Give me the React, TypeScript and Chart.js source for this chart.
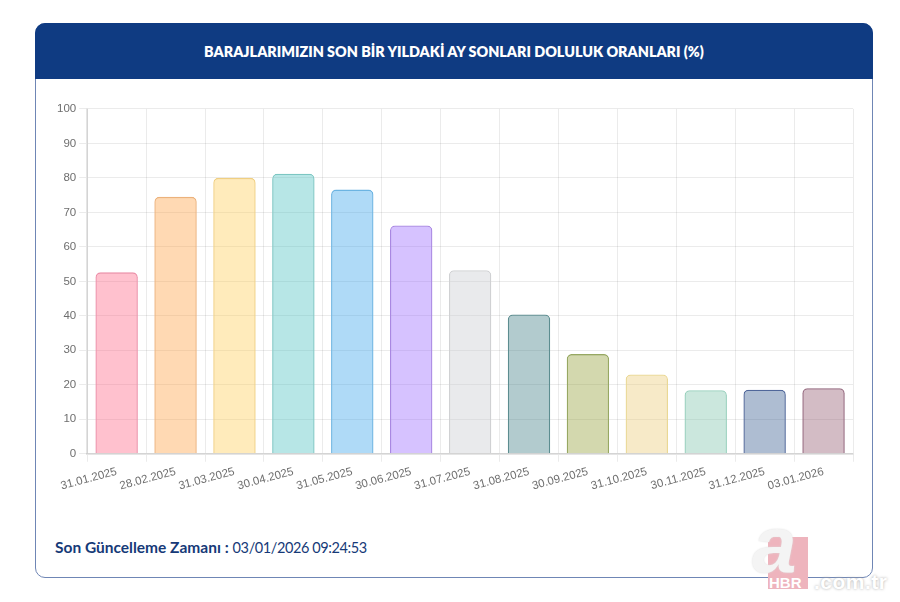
import { useEffect, useRef } from "react";
import { Chart, registerables } from "chart.js";

Chart.register(...registerables);

const dates = [
  "31.01.2025", "28.02.2025", "31.03.2025", "30.04.2025", "31.05.2025", "30.06.2025", "31.07.2025",
  "31.08.2025", "30.09.2025", "31.10.2025", "30.11.2025", "31.12.2025", "03.01.2026",
];
const fillRates = [52.6, 74.5, 80, 81.2, 76.6, 66.2, 53.2, 40.4, 28.9, 23, 18.4, 18.6, 19];
const barFills = [
  "rgba(255,99,132,0.4)", "rgba(255,159,64,0.4)", "rgba(255,205,86,0.4)", "rgba(75,192,192,0.4)",
  "rgba(54,162,235,0.4)", "rgba(153,102,255,0.4)", "rgba(201,203,207,0.4)", "rgba(62,125,132,0.4)",
  "rgba(145,157,52,0.4)", "rgba(235,202,117,0.4)", "rgba(125,195,170,0.4)", "rgba(52,90,142,0.4)",
  "rgba(145,87,110,0.4)",
];
const barBorders = [
  "#ec8fa8", "#ecb27c", "#f0cf82", "#7cc6c2",
  "#6cb4e2", "#a988e2", "#d0d1d3", "#5c8d90",
  "#97a862", "#ead894", "#97cfbc", "#50679a",
  "#8f6178",
];

const title = "BARAJLARIMIZIN SON BİR YILDAKİ AY SONLARI DOLULUK ORANLARI (%)";
const navy = "#0f3b82";

export default function App() {
  const canvasRef = useRef<HTMLCanvasElement | null>(null);

  useEffect(() => {
    if (!canvasRef.current) return;
    const chart = new Chart(canvasRef.current, {
      type: "bar",
      data: {
        labels: dates,
        datasets: [
          {
            data: fillRates,
            backgroundColor: barFills,
            borderColor: barBorders,
            borderWidth: 1.3,
            borderRadius: 5,
            borderSkipped: "bottom",
          },
        ],
      },
      options: {
        responsive: false,
        animation: false,
        layout: { padding: { top: 8, right: 6, bottom: 0, left: 0 } },
        plugins: { legend: { display: false }, tooltip: { enabled: false } },
        scales: {
          x: {
            grid: { color: "rgba(0,0,0,0.08)" },
            border: { color: "rgba(0,0,0,0.1)", width: 2 },
            ticks: {
              color: "#6e6e6e",
              font: { family: "'Liberation Sans', Arial", size: 11.5 },
              minRotation: 15,
              maxRotation: 15,
              autoSkip: false,
            },
          },
          y: {
            min: 0,
            max: 100,
            grid: { color: "rgba(0,0,0,0.08)" },
            border: { color: "rgba(0,0,0,0.1)", width: 2 },
            ticks: {
              stepSize: 10,
              color: "#6e6e6e",
              font: { family: "'Liberation Sans', Arial", size: 11.5 },
            },
          },
        },
      },
    });
    return () => chart.destroy();
  }, []);

  return (
    <div style={{ position: "absolute", left: 0, top: 0, width: 900, height: 602, background: "#fff", overflow: "hidden" }}>
      <div
        style={{
          position: "absolute",
          left: 35,
          top: 23,
          width: 836,
          height: 553,
          border: "1px solid #6f86b5",
          borderRadius: 10,
        }}
      />
      <div
        style={{
          position: "absolute",
          left: 35,
          top: 23,
          width: 838,
          height: 56,
          background: navy,
          borderRadius: "10px 10px 0 0",
          color: "#fff",
          textAlign: "center",
          lineHeight: "57px",
          fontFamily: "Lato, sans-serif",
          fontWeight: 800,
          fontSize: 14.35,
        }}
      >
        {title}
      </div>
      <canvas ref={canvasRef} width={805} height={397} style={{ position: "absolute", left: 54, top: 99 }} />
      <div
        style={{
          position: "absolute",
          left: 55,
          top: 538,
          color: "#163a78",
          fontFamily: "Lato, sans-serif",
          fontSize: 15.5,
          whiteSpace: "nowrap",
        }}
      >
        <b>Son Güncelleme Zamanı :</b>{" "}
        <span style={{ fontSize: 14.5, letterSpacing: -0.4 }}>03/01/2026 09:24:53</span>
      </div>
      <div style={{ position: "absolute", left: 768, top: 537, width: 40, height: 52, background: "#eeb4bd" }} />
      <div
        style={{
          position: "absolute",
          left: 752,
          top: 500,
          color: "#f4f4f4",
          fontFamily: "'Liberation Sans', Arial",
          fontWeight: 700,
          fontStyle: "italic",
          fontSize: 80,
          lineHeight: "90px",
          textShadow: "0 0 2px #ddd",
        }}
      >
        a
      </div>
      <div
        style={{
          position: "absolute",
          left: 769,
          top: 574,
          color: "#fff",
          fontFamily: "'Liberation Sans', Arial",
          fontWeight: 700,
          fontSize: 15,
        }}
      >
        HBR
      </div>
      <div
        style={{
          position: "absolute",
          left: 814,
          top: 570,
          color: "#fff",
          fontFamily: "'Liberation Sans', Arial",
          fontWeight: 700,
          fontSize: 21,
          letterSpacing: 0.5,
          whiteSpace: "nowrap",
          textShadow: "0 0 3px #aaa",
        }}
      >
        .com.tr
      </div>
    </div>
  );
}
